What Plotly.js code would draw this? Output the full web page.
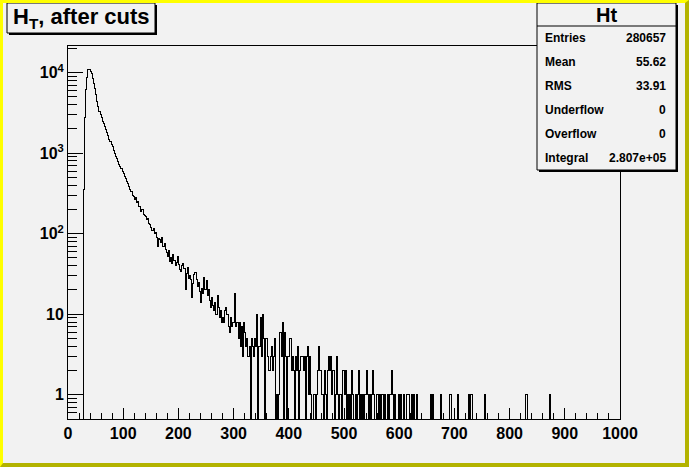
<!DOCTYPE html>
<html>
<head>
<meta charset="utf-8">
<script src="https://cdn.plot.ly/plotly-3.0.1.min.js"></script>
<style>
  html, body { margin: 0; padding: 0; background: #f2f2f2; }
  #wrap { position: absolute; left: 0; top: 0; width: 689px; height: 467px; box-sizing: border-box;
          background: #f2f2f2; border-left: 3px solid #ffff00; border-top: 3px solid #ffff00;
          border-right: 4px solid #b3b300; border-bottom: 4px solid #b3b300; }
  #plot { width: 682px; height: 460px; }
  #plot .scatterlayer path.js-line { shape-rendering: crispEdges; }
</style>
</head>
<body>
<div id="wrap"><div id="plot"></div></div>
<script>
// ---- data (histogram "Ht", bin width 2, range 0-1000) ----
const binWidth = 2;
const xMin = 0;
const xMax = 1000;
// segment A: consecutive bins from low edge 28 to 118
const segAStart = 28;
const segACounts = [
  350, 2740, 6100, 8600, 11000, 11000, 10200, 9800, 8500, 7400,
  6300, 5300, 4400, 3800, 3300, 3000, 2800, 2500, 2350, 2150,
  1980, 1800, 1650, 1500, 1380, 1280, 1200, 1080, 1000, 920,
  850, 780, 730, 690, 650, 600, 555, 520, 490, 450,
  420, 385, 355, 330, 300, 290
];
// segment B: consecutive bins from low edge 120 to 298
const segBStart = 120;
const segBCounts = [
  265, 280, 245, 250, 215, 215, 190, 200, 175, 170,
  165, 150, 155, 135, 130, 120, 110, 115, 100, 105,
  90, 69, 88, 85, 78, 91, 70, 75, 64, 58,
  52, 62, 45, 50, 43, 55, 47, 40, 44, 52,
  41, 36, 34, 40, 43, 37, 20, 32, 38, 28,
  30, 27, 16, 24, 31, 33, 27, 22, 25, 19,
  14, 21, 18, 29, 20, 26, 17, 20, 15, 12,
  16, 13, 11, 14, 10, 17, 12, 9, 11, 8,
  9, 8, 11, 12, 10, 7, 6, 9, 7, 8
];
// segment C: consecutive bins from low edge 300 to 434
const segCStart = 300;
const segCCounts = [
  8, 18, 7, 8, 5, 8, 4, 7, 3, 8,
  6, 4, 5, 3, 4, 0, 5, 4, 3, 5,
  4, 10, 0, 4, 9, 3, 10, 5, 0, 5,
  5, 3, 2, 3, 4, 2, 3, 5, 0, 1,
  0, 1, 6, 3, 8, 0, 6, 3, 0, 3,
  3, 5, 2, 3, 2, 0, 3, 2, 4, 0,
  2, 3, 3, 2, 3, 0, 3, 4
];
// sparse tail: bin low edges and counts of non-empty bins from 436 on
const tailLow = [
  436,438,440,444,446,450,452,454,456,458,460,464,466,470,472,474,476,478,480,484,
  486,488,492,494,498,500,502,506,510,514,516,520,524,526,530,534,538,540,542,546,
  550,552,554,558,560,564,568,570,574,578,582,584,586,588,592,598,602,608,614,616,
  622,626,632,656,660,674,692,706,726,730,754,828,830,872
];
const tailCounts = [
  1,3,1,1,1,1,2,4,2,2,1,2,1,2,3,2,3,1,2,1,
  3,1,1,1,2,1,2,1,1,2,1,1,1,2,1,1,1,2,1,1,
  1,2,1,1,1,1,1,1,1,1,1,1,2,1,1,1,1,1,1,1,
  1,1,1,1,1,1,1,1,1,1,1,1,1,1
];
const yTickVals = [1, 10, 100, 1000, 10000];
const yTickText = ['1', '10', '10<sup>2</sup>', '10<sup>3</sup>', '10<sup>4</sup>'];
const xTickVals = [0, 100, 200, 300, 400, 500, 600, 700, 800, 900, 1000];
const statLabels = ['Entries', 'Mean', 'RMS', 'Underflow', 'Overflow', 'Integral'];
const statValues = ['280657', '55.62', '33.91', '0', '0', '2.807e+05'];
const histName = 'Ht';
const histTitle = 'H<sub>T</sub>, after cuts';

// ---- build full bin array ----
const nBins = Math.round((xMax - xMin) / binWidth);
const counts = new Array(nBins).fill(0);
function fillSeg(start, arr) {
  const i0 = Math.round((start - xMin) / binWidth);
  arr.forEach((c, i) => { counts[i0 + i] = c; });
}
fillSeg(segAStart, segACounts);
fillSeg(segBStart, segBCounts);
fillSeg(segCStart, segCCounts);
tailLow.forEach((lo, i) => { counts[Math.round((lo - xMin) / binWidth)] = tailCounts[i]; });

const yRangeLog = [Math.log10(0.5), 4.331];
const yFloor = Math.pow(10, yRangeLog[0]);
const xs = [], ys = [];
for (let i = 0; i < nBins; i++) { xs.push(xMin + i * binWidth); ys.push(Math.max(counts[i], yFloor)); }
xs.push(xMax); ys.push(Math.max(counts[nBins - 1], yFloor));

// minor log ticks
const yMinor = [];
[0.1, 1, 10, 100, 1000, 10000].forEach(d => { for (let k = 2; k <= 9; k++) yMinor.push(k * d); });

// page-pixel to paper conversion (plot area: x 68..620, y 46..419 on page)
const PX0 = 68, PX1 = 620, PY0 = 46, PY1 = 419;
const px = x => (x - PX0) / (PX1 - PX0);
const py = y => (PY1 - y) / (PY1 - PY0);

const font = 'Liberation Sans, Arial, sans-serif';
const shapes = [];
const annotations = [];
function box(x0, y0, x1, y1, sh) {
  shapes.push({type: 'rect', xref: 'paper', yref: 'paper', x0: px(x0 + sh), x1: px(x1 + sh), y0: py(y0 + sh), y1: py(y1 + sh),
               fillcolor: '#000', line: {width: 0}, layer: 'above'});
  shapes.push({type: 'rect', xref: 'paper', yref: 'paper', x0: px(x0), x1: px(x1), y0: py(y0), y1: py(y1),
               fillcolor: '#f2f2f2', line: {color: '#000', width: 1}, layer: 'above'});
}
// title box
box(7, 3, 155, 33, 2);
annotations.push({xref: 'paper', yref: 'paper', x: px(81), y: py(18), xanchor: 'center', yanchor: 'middle',
  text: histTitle, showarrow: false, font: {family: font, size: 22, weight: 'bold', color: '#000'}});
// stats box
box(537, 3, 676, 170, 2);
shapes.push({type: 'line', xref: 'paper', yref: 'paper', x0: px(537), x1: px(676), y0: py(26), y1: py(26),
             line: {color: '#000', width: 1}, layer: 'above'});
annotations.push({xref: 'paper', yref: 'paper', x: px(606.5), y: py(14.5), xanchor: 'center', yanchor: 'middle',
  text: histName, showarrow: false, font: {family: font, size: 20, weight: 'bold', color: '#000'}});
const rowY = [38, 62, 86, 110, 134, 158];
statLabels.forEach((lab, i) => {
  annotations.push({xref: 'paper', yref: 'paper', x: px(543), y: py(rowY[i]), xanchor: 'left', yanchor: 'middle',
    text: lab, showarrow: false, font: {family: font, size: 12, weight: 'bold', color: '#000'}});
  annotations.push({xref: 'paper', yref: 'paper', x: px(668), y: py(rowY[i]), xanchor: 'right', yanchor: 'middle',
    text: statValues[i], showarrow: false, font: {family: font, size: 12, weight: 'bold', color: '#000'}});
});

const trace = {
  type: 'scatter', mode: 'lines', x: xs, y: ys,
  line: {shape: 'hv', color: '#000', width: 1}, hoverinfo: 'skip'
};

const layout = {
  width: 682, height: 460,
  margin: {l: 65, r: 65, t: 43, b: 44, pad: 0},
  paper_bgcolor: '#f2f2f2', plot_bgcolor: '#f2f2f2',
  showlegend: false,
  xaxis: {
    range: [xMin, xMax], tickmode: 'array', tickvals: xTickVals, ticktext: xTickVals.map(String),
    ticks: 'inside', ticklen: 11, tickwidth: 1, tickcolor: '#000',
    showline: true, linecolor: '#000', linewidth: 1, mirror: true,
    showgrid: false, zeroline: false,
    tickfont: {family: font, size: 16, weight: 'bold', color: '#000'},
    minor: {dtick: 20, tick0: 0, ticks: 'inside', ticklen: 6, tickcolor: '#000', tickwidth: 1, showgrid: false}
  },
  yaxis: {
    type: 'log', range: yRangeLog, tickmode: 'array', tickvals: yTickVals, ticktext: yTickText,
    ticks: 'inside', ticklen: 15, tickwidth: 1, tickcolor: '#000',
    showline: true, linecolor: '#000', linewidth: 1, mirror: true,
    showgrid: false, zeroline: false,
    tickfont: {family: font, size: 16, weight: 'bold', color: '#000'},
    minor: {tickmode: 'array', tickvals: yMinor, ticks: 'inside', ticklen: 9, tickcolor: '#000', tickwidth: 1, showgrid: false}
  },
  shapes: shapes,
  annotations: annotations
};

Plotly.newPlot('plot', [trace], layout, {staticPlot: true, displayModeBar: false});
</script>
</body>
</html>
